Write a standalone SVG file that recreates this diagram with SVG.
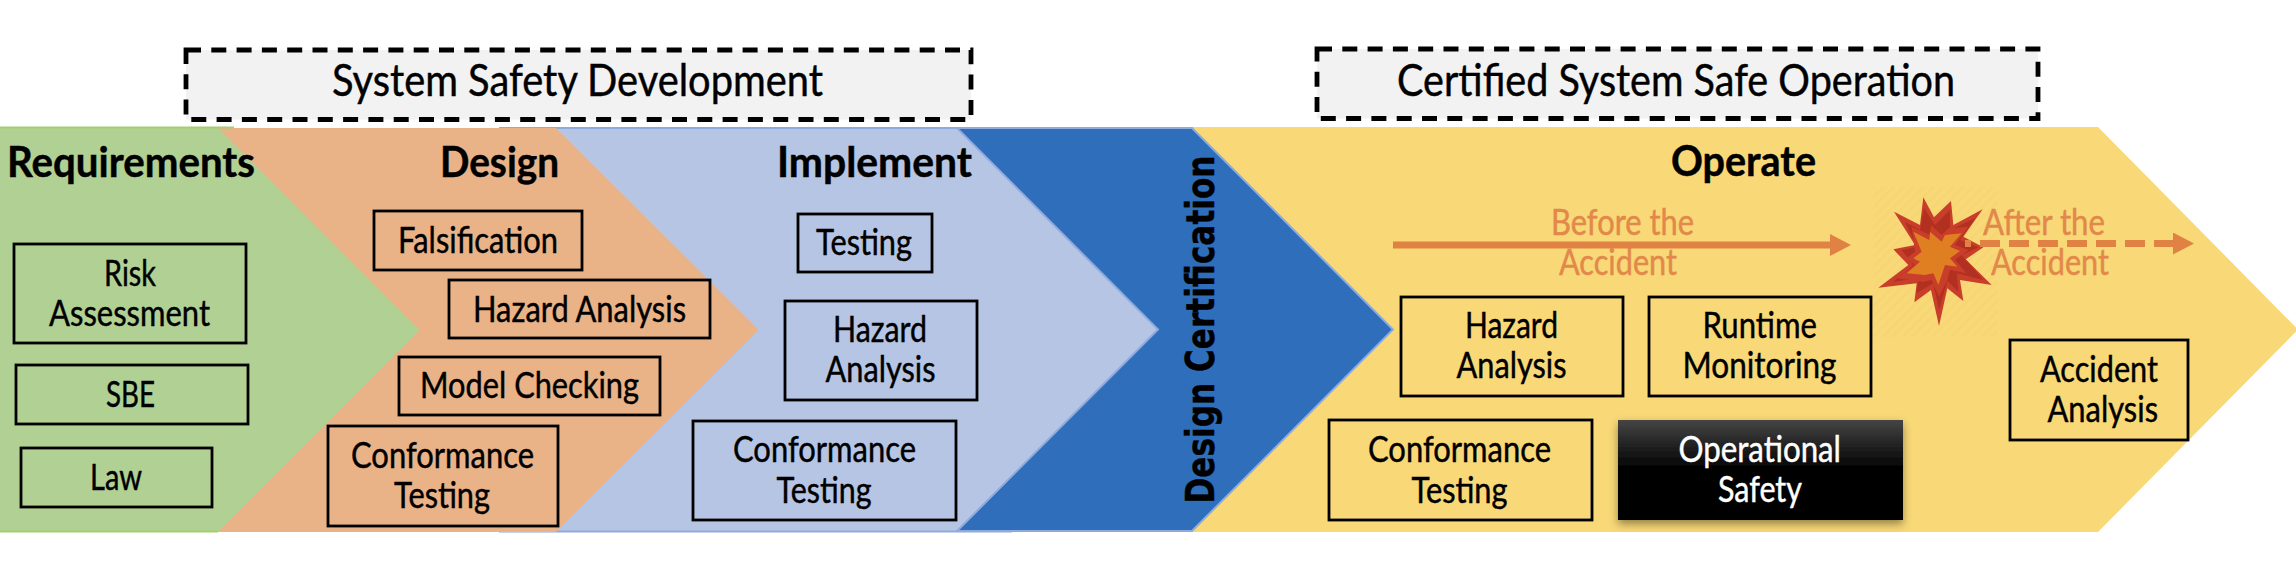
<svg xmlns="http://www.w3.org/2000/svg" width="2296" height="587" viewBox="0 0 2296 587">
<style>
text{font-family:"Lato","Liberation Sans",sans-serif;fill:#000;stroke:#000;stroke-width:.45}
.b{font-size:36px}
.h{font-size:42px;font-weight:700}
.t{font-size:44px}
.o{font-size:36px;fill:#e2884a;stroke:#e2884a}
.w{fill:#fff;stroke:#fff}
.box{fill:none;stroke:#000;stroke-width:2.8}
.dash{fill:#f2f2f2;stroke:#000;stroke-width:4.800;stroke-dasharray:15 10.300}
.dc{font-family:"DejaVu Sans",sans-serif;font-size:39px;font-weight:700}
</style>
<defs>
<marker id="headA" markerUnits="userSpaceOnUse" markerWidth="21" markerHeight="22" refX="0" refY="11" orient="auto"><path d="M0 0L21 11L0 22z" fill="#df8244"/></marker>
<linearGradient id="blk" x1="0" y1="0" x2="0" y2="1"><stop offset="0" stop-color="#454545"/><stop offset=".5" stop-color="#000"/><stop offset="1" stop-color="#000"/></linearGradient>
<filter id="sh" x="-10%" y="-10%" width="120%" height="130%"><feDropShadow dx="0" dy="4" stdDeviation="4" flood-color="#000" flood-opacity=".4"/></filter>
<pattern id="hatch" width="7" height="7" patternUnits="userSpaceOnUse" patternTransform="rotate(45)"><rect width="7" height="7" fill="#f8d877"/><rect width="2.5" height="7" fill="#f6d574"/></pattern>
</defs>
<g id="phase-operate"><polygon points="1100,127 2098,127 2298,329.500 2098,532 1100,532" fill="#f8d877"/></g>
<g id="phase-certification"><polygon points="900,128 1192,128 1393,329.500 1192,531 900,531" fill="#2f6eba" stroke="#8faadc" stroke-width="2"/></g>
<g id="phase-implement"><polygon points="500,128 957,128 1158,329.500 957,531 1012,531.500 500,531.500" fill="#b6c5e3" stroke="#8faadc" stroke-width="2"/></g>
<g id="phase-design"><polygon points="150,128 556,128 758.500,330 556,532 150,532" fill="#e9b287"/></g>
<g id="phase-requirements"><polygon points="0,127.500 234,127.500 218,128 419.500,330 218,532 0,532" fill="#b1d094"/><path d="M0 127.500H234M0 531.500H218" stroke="#a3cf70" stroke-width="2" fill="none"/></g>

<g id="band-development"><rect class="dash" x="186" y="50" width="785" height="69.500"/><text class="t" x="332" y="96" textLength="491" lengthAdjust="spacingAndGlyphs">System Safety Development</text></g>
<g id="band-operation"><rect class="dash" x="1317" y="49" width="721" height="69.500"/><text class="t" x="1397" y="96" textLength="558" lengthAdjust="spacingAndGlyphs">Certified System Safe Operation</text></g>

<g id="label-requirements"><text class="h" x="7" y="177" textLength="248" lengthAdjust="spacingAndGlyphs">Requirements</text></g>
<g id="label-design"><text class="h" x="440" y="177" textLength="119" lengthAdjust="spacingAndGlyphs">Design</text></g>
<g id="label-implement"><text class="h" x="777" y="177" textLength="195" lengthAdjust="spacingAndGlyphs">Implement</text></g>
<g id="label-operate"><text class="h" x="1671" y="176" textLength="145" lengthAdjust="spacingAndGlyphs">Operate</text></g>
<g id="label-certification"><text class="dc" transform="translate(1214,503.500) rotate(-90)" x="0" y="0" textLength="348" lengthAdjust="spacingAndGlyphs">Design Certification</text></g>

<g id="node-risk"><rect class="box" x="14" y="244" width="232" height="99"/><text class="b" x="104" y="286" textLength="52" lengthAdjust="spacingAndGlyphs">Risk</text><text class="b" x="49" y="326" textLength="161" lengthAdjust="spacingAndGlyphs">Assessment</text></g>
<g id="node-sbe"><rect class="box" x="16" y="365" width="232" height="59"/><text class="b" x="106" y="406.500" textLength="49" lengthAdjust="spacingAndGlyphs">SBE</text></g>
<g id="node-law"><rect class="box" x="21" y="448" width="191" height="59"/><text class="b" x="90" y="490" textLength="52" lengthAdjust="spacingAndGlyphs">Law</text></g>

<g id="node-falsification"><rect class="box" x="374" y="211" width="208" height="59"/><text class="b" x="398" y="252.500" textLength="160" lengthAdjust="spacingAndGlyphs">Falsification</text></g>
<g id="node-hazard-design"><rect class="box" x="449" y="280" width="261" height="58"/><text class="b" x="473" y="322" textLength="213" lengthAdjust="spacingAndGlyphs">Hazard Analysis</text></g>
<g id="node-model"><rect class="box" x="399" y="357" width="261" height="58"/><text class="b" x="420" y="398" textLength="219" lengthAdjust="spacingAndGlyphs">Model Checking</text></g>
<g id="node-conformance-design"><rect class="box" x="328" y="426" width="230" height="100"/><text class="b" x="351" y="468" textLength="183" lengthAdjust="spacingAndGlyphs">Conformance</text><text class="b" x="394" y="508" textLength="96" lengthAdjust="spacingAndGlyphs">Testing</text></g>

<g id="node-testing"><rect class="box" x="798" y="214" width="134" height="58"/><text class="b" x="816" y="255" textLength="96" lengthAdjust="spacingAndGlyphs">Testing</text></g>
<g id="node-hazard-impl"><rect class="box" x="785" y="301" width="192" height="99"/><text class="b" x="833" y="342" textLength="94" lengthAdjust="spacingAndGlyphs">Hazard</text><text class="b" x="825.500" y="382" textLength="110" lengthAdjust="spacingAndGlyphs">Analysis</text></g>
<g id="node-conformance-impl"><rect class="box" x="693" y="421" width="263" height="99"/><text class="b" x="733" y="462" textLength="183" lengthAdjust="spacingAndGlyphs">Conformance</text><text class="b" x="776.500" y="503" textLength="95" lengthAdjust="spacingAndGlyphs">Testing</text></g>

<g id="node-hazard-op"><rect class="box" x="1401" y="297" width="222" height="99"/><text class="b" x="1465" y="338" textLength="93" lengthAdjust="spacingAndGlyphs">Hazard</text><text class="b" x="1456.500" y="378" textLength="110" lengthAdjust="spacingAndGlyphs">Analysis</text></g>
<g id="node-runtime"><rect class="box" x="1649" y="297" width="222" height="99"/><text class="b" x="1702.500" y="338" textLength="114.500" lengthAdjust="spacingAndGlyphs">Runtime</text><text class="b" x="1682.500" y="378" textLength="154" lengthAdjust="spacingAndGlyphs">Monitoring</text></g>
<g id="node-conformance-op"><rect class="box" x="1329" y="420" width="263" height="100"/><text class="b" x="1368" y="462" textLength="183" lengthAdjust="spacingAndGlyphs">Conformance</text><text class="b" x="1411.500" y="503" textLength="96" lengthAdjust="spacingAndGlyphs">Testing</text></g>
<g id="node-operational"><rect x="1618" y="420" width="285" height="100" fill="url(#blk)" filter="url(#sh)"/><text class="b w" x="1678.500" y="461.500" textLength="162.500" lengthAdjust="spacingAndGlyphs">Operational</text><text class="b w" x="1718" y="501.500" textLength="84" lengthAdjust="spacingAndGlyphs">Safety</text></g>
<g id="node-accident"><rect class="box" x="2010" y="340" width="178" height="100"/><text class="b" x="2040" y="382" textLength="118" lengthAdjust="spacingAndGlyphs">Accident</text><text class="b" x="2047.500" y="422" textLength="110.500" lengthAdjust="spacingAndGlyphs">Analysis</text></g>

<g id="node-explosion"><rect x="1873" y="187" width="125" height="150" fill="url(#hatch)"/>
<g transform="translate(1870,190) scale(.33333)">
<polygon fill="#c83e2a" points="160,22 192,82 243,33 250,105 338,58 280,140 340,172 287,208 365,285 270,270 280,333 232,295 207,408 183,300 133,337 140,280 25,293 115,225 70,178 135,165 72,65 150,105"/>
<polygon fill="#b2301f" points="162,55 195,105 240,60 240,120 315,85 270,150 325,172 275,195 340,270 260,250 265,305 232,272 207,360 190,280 140,310 145,265 70,275 130,225 95,180 140,170 105,95 150,120"/>
<polygon fill="#c83e2a" points="125,110 180,135 183,105 215,135 235,115 295,110 255,165 295,180 255,210 290,250 240,240 232,270 207,320 185,270 160,275 80,265 135,225 110,205 135,185"/>
<polygon fill="#e07f22" points="130,125 178,150 180,125 215,155 225,135 275,130 240,170 270,183 240,205 262,230 225,225 205,285 190,250 165,255 110,250 150,215 130,205 155,185"/>
</g></g>

<g id="caption-before"><text class="o" x="1551" y="235" textLength="143" lengthAdjust="spacingAndGlyphs">Before the</text><text class="o" x="1559" y="275" textLength="118" lengthAdjust="spacingAndGlyphs">Accident</text></g>
<g id="caption-after"><text class="o" x="1983" y="235" textLength="122" lengthAdjust="spacingAndGlyphs">After the</text><text class="o" x="1991" y="275" textLength="118" lengthAdjust="spacingAndGlyphs">Accident</text></g>

<g id="connectors" fill="none" stroke="#df8244" stroke-width="7">
<line x1="1393" y1="245" x2="1830" y2="245" marker-end="url(#headA)"/>
<line x1="1965" y1="243.500" x2="2173" y2="243.500" stroke-dasharray="20 9" stroke-dashoffset="14" marker-end="url(#headA)"/>
</g>
</svg>
